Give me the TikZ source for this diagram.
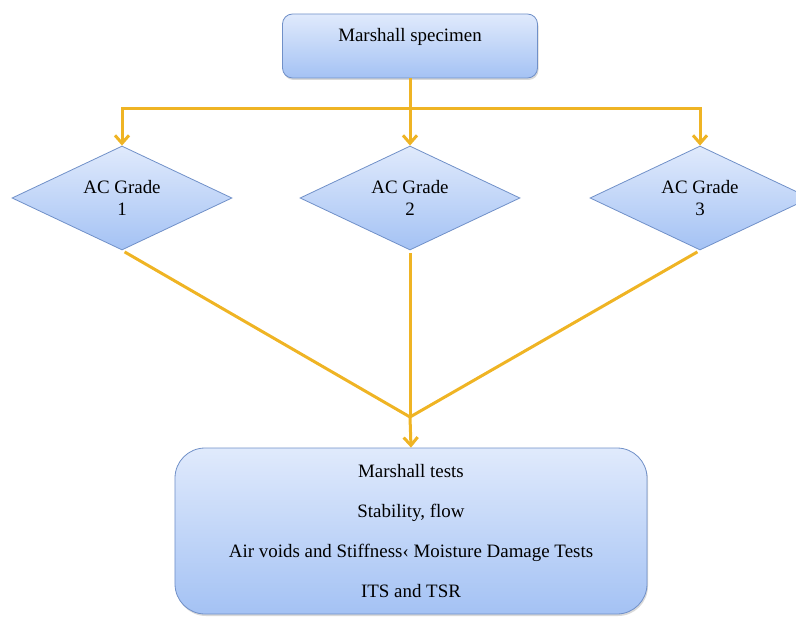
\documentclass[tikz,border=0pt]{standalone}
\usepackage{fontspec}
\setmainfont{Liberation Serif}
\usetikzlibrary{shapes.geometric,arrows.meta,shadows}
\definecolor{linkgold}{RGB}{239,180,36}
\definecolor{boxtop}{RGB}{224,234,252}
\definecolor{boxbottom}{RGB}{164,194,244}
\definecolor{boxedge}{RGB}{112,144,200}

\begin{document}
\begin{tikzpicture}[x=1bp,y=-1bp,
		font=\fontsize{19}{22}\selectfont,
		box/.style={draw=boxedge,line width=0.8bp,rounded corners=10bp,top color=boxtop,bottom color=boxbottom,
			drop shadow={opacity=0.3,shadow xshift=1bp,shadow yshift=-2bp}},
		grade/.style={diamond,draw=boxedge,line width=0.8bp,top color=boxtop,bottom color=boxbottom,
			minimum width=220bp,minimum height=104bp,aspect=2,inner sep=0pt,align=center},
		link/.style={draw=linkgold,line width=3bp},
		tip/.style={-{Straight Barb[length=8bp,width=14bp,line width=3bp]}}]
	\useasboundingbox (0,0) rectangle (796,619);

	\node[box,minimum width=255bp,minimum height=64bp,text depth=22bp] (specimen) at (410,46) {Marshall specimen};

	\foreach \g/\x in {1/122,2/410,3/700}
	{
		\node[grade] (grade\g) at (\x,198) {AC Grade\\\g};
	}

	\node[box,rounded corners=30bp,minimum width=472bp,minimum height=166bp,align=center] (tests) at (411,531)
		{Marshall tests\\[18bp]Stability, flow\\[18bp]Air voids and Stiffness‹ Moisture Damage Tests\\[18bp]ITS and TSR};

	\coordinate (fork) at (410,109);
	\coordinate (join) at (410,417);

	\draw[link] (specimen) -- (fork);
	\draw[link,tip] (fork) -| (grade1.north);
	\draw[link,tip] (fork) -- (grade2.north);
	\draw[link,tip] (fork) -| (grade3.north);

	\draw[link,shorten <=3bp,shorten >=3bp] (grade1.south) -- (join) -- (grade3.south);
	\draw[link,shorten <=3bp] (grade2.south) -- (join);
	\draw[link,tip] (join) -- (tests.north);
\end{tikzpicture}
\end{document}
